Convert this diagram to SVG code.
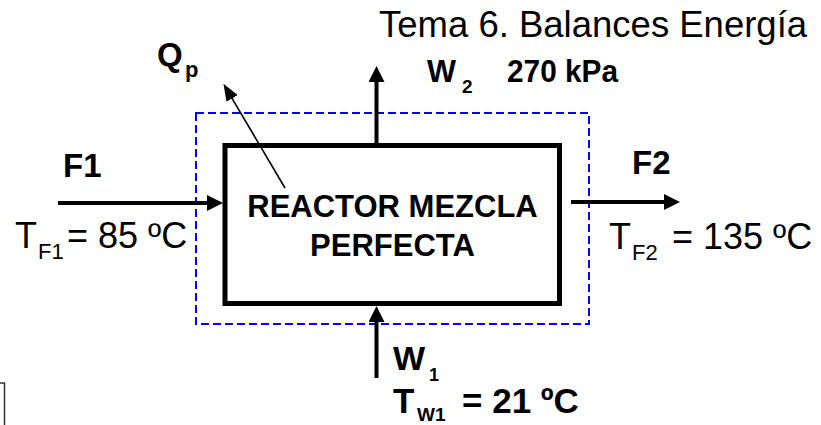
<svg xmlns="http://www.w3.org/2000/svg" width="821" height="425" viewBox="0 0 821 425">
<style>
text{font-family:"Liberation Sans",Arial,sans-serif;fill:#000}
.b{font-weight:bold}
.thick{stroke:#000;stroke-width:4;fill:none}
.thin{stroke:#000;stroke-width:1.6;fill:none}
</style>
<defs>
<marker id="ah" markerUnits="userSpaceOnUse" viewBox="0 0 16 16" refX="1" refY="8" markerWidth="16" markerHeight="16" orient="auto">
<path d="M0,0 L16,8 L0,16 z" fill="#000"/>
</marker>
<marker id="ahs" markerUnits="userSpaceOnUse" viewBox="0 0 17 13" refX="1" refY="6.5" markerWidth="17" markerHeight="13" orient="auto">
<path d="M0,0 L17,6.5 L0,13 z" fill="#000"/>
</marker>
</defs>
<rect width="821" height="425" fill="#fff"/>
<text x="379" y="37" font-size="36.5">Tema 6. Balances Energía</text>
<g id="boundary">
<rect x="196" y="113" width="393" height="211" fill="none" stroke="#0000ff" stroke-width="2" stroke-dasharray="8 4"/>
</g>
<g id="reactor">
<rect x="225" y="145.5" width="334.5" height="158" fill="#fff" stroke="#000" stroke-width="5"/>
<text class="b" x="392.5" y="217" font-size="31" text-anchor="middle">REACTOR MEZCLA</text>
<text class="b" x="392.5" y="256" font-size="31" text-anchor="middle">PERFECTA</text>
</g>
<g id="connectors">
<line class="thick" x1="58" y1="203" x2="208" y2="203" marker-end="url(#ah)"/>
<line class="thick" x1="571" y1="202" x2="665" y2="202" marker-end="url(#ah)"/>
<line class="thick" x1="376.5" y1="143" x2="376.5" y2="81" marker-end="url(#ah)"/>
<line class="thick" x1="376.5" y1="378" x2="376.5" y2="321" marker-end="url(#ah)"/>
<line class="thin" x1="285" y1="188" x2="231.6" y2="97.6" marker-end="url(#ahs)"/>
</g>
<g id="label-qp">
<text class="b" x="157" y="66" font-size="33">Q</text>
<text class="b" x="185" y="77" font-size="22">p</text>
</g>
<g id="label-w2">
<text class="b" x="427" y="82" font-size="32" textLength="29" lengthAdjust="spacingAndGlyphs">W</text>
<text class="b" x="462" y="93" font-size="19">2</text>
<text class="b" x="507" y="82" font-size="32" textLength="111" lengthAdjust="spacingAndGlyphs">270 kPa</text>
</g>
<g id="label-f1">
<text class="b" x="63" y="177" font-size="33">F1</text>
<text x="15" y="248" font-size="36">T</text>
<text x="38" y="259" font-size="22">F1</text>
<text x="67" y="248" font-size="36">= 85 ºC</text>
</g>
<g id="label-f2">
<text class="b" x="632" y="174" font-size="33">F2</text>
<text x="609" y="249" font-size="36">T</text>
<text x="632" y="260" font-size="22">F2</text>
<text x="672" y="249" font-size="36">= 135 ºC</text>
</g>
<g id="label-w1">
<text class="b" x="393" y="370" font-size="34">W</text>
<text class="b" x="429" y="381" font-size="18">1</text>
<text class="b" x="393" y="413" font-size="35">T</text>
<text class="b" x="417" y="421" font-size="19">W1</text>
<text class="b" x="462" y="413" font-size="35">= 21 ºC</text>
</g>
<g id="corner">
<path d="M0,383 L4.5,383 L4.5,425" fill="none" stroke="#333" stroke-width="1.5"/>
</g>
</svg>
